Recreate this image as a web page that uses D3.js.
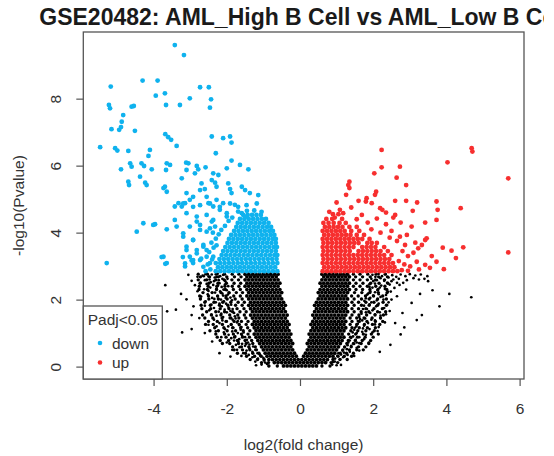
<!DOCTYPE html>
<html>
<head>
<meta charset="utf-8">
<script src="https://cdn.jsdelivr.net/npm/d3@7"></script>
<style>
body { margin: 0; background: #fff; }
svg { display: block; }
text { font-family: "Liberation Sans", Arial, sans-serif; }
</style>
</head>
<body>
<svg width="554" height="456"></svg>
<script>
const xTicks = [-4, -2, 0, 2, 4, 6];
const yTicks = [0, 2, 4, 6, 8];
const legendItems = ["down", "up"];

// significant, down (log2FC, -log10 p)
const downGenes = [
  [-3.42,9.6],[-3.17,9.3],[-5.17,8.36],[-4.30,8.54],[-3.89,8.54],[-2.73,8.34],[-2.49,8.34],[-3.94,8.09],[-3.69,8.16],[-3.01,8.01],
  [-2.43,7.98],[-5.22,7.81],[-5.19,7.71],[-4.60,7.76],[-4.54,7.78],[-3.66,7.81],[-3.28,7.81],[-2.46,7.73],[-4.83,7.51],[-4.87,7.31],
  [-4.94,7.07],[-4.89,7.15],[-5.15,7.09],[-4.51,7.04],[-3.68,6.94],[-3.60,6.85],[-3.52,6.77],[-5.46,6.55],[-5.05,6.52],[-4.99,6.45],
  [-4.69,6.44],[-4.10,6.47],[-4.14,6.29],[-3.37,6.59],[-2.41,6.87],[-2.10,6.82],[-1.91,6.87],[-1.87,6.69],[-2.30,6.37],[-4.89,5.89],
  [-4.64,6.07],[-4.60,5.97],[-4.33,6.07],[-4.26,5.99],[-4.05,5.89],[-3.64,6.07],[-3.66,5.87],[-3.55,6.02],[-3.11,6.09],[-3.05,6.07],
  [-4.37,5.67],[-4.69,5.52],[-4.67,5.42],[-4.23,5.49],[-4.19,5.42],[-2.82,5.99],[-2.78,5.89],[-2.87,5.77],[-2.58,5.95],[-3.23,5.62],
  [-3.10,5.87],[-2.37,5.77],[-2.23,5.72],[-2.41,5.57],[-1.87,6.15],[-1.64,6.02],[-1.41,5.89],[-2.00,5.92],[-3.73,5.33],[-3.64,5.22],
  [-3.69,5.37],[-2.69,5.47],[-2.73,5.27],[-2.60,5.30],[-2.32,5.49],[-2.28,5.37],[-1.96,5.47],[-1.91,5.30],[-1.87,5.18],[-1.59,5.37],
  [-1.50,5.27],[-1.37,5.18],[-1.14,5.12],[-3.10,5.18],[-3.01,4.98],[-3.14,4.88],[-3.23,4.78],[-3.42,4.78],[-3.32,4.88],[-2.92,5.07],
  [-2.55,5.07],[-2.50,4.88],[-2.37,4.78],[-2.28,4.98],[-2.19,4.68],[-2.10,4.88],[-2.00,4.48],[-1.78,4.83],[-1.69,4.63],[-1.59,4.58],
  [-1.46,4.48],[-4.28,4.28],[-4.01,4.23],[-3.96,4.25],[-4.46,4.03],[-3.64,4.10],[-3.37,4.18],[-3.42,4.38],[-3.19,3.98],[-2.92,3.78],
  [-2.82,4.33],[-2.73,4.08],[-2.55,4.03],[-2.41,4.33],[-2.32,4.18],[-3.73,3.28],[-3.64,3.09],[-5.28,3.09],[-3.10,3.58],[-3.01,3.28],
  [-2.82,3.48],[-2.92,3.09],[-3.14,2.99],[-2.64,3.58],[-2.55,3.28],[-2.46,3.09],[-2.73,3.18],[-3.78,3.27],[-3.68,3.07],[-3.20,3.27],
  [-2.96,3.17],[-2.70,3.22],[-3.19,4.87],[-2.92,4.77],[-2.73,4.82],[-2.46,4.87],[-2.19,4.77],[-1.91,4.87],[-1.69,4.77],[-1.46,4.82],
  [-1.18,4.87],[-3.10,4.58],[-2.82,4.48],[-2.55,4.53],[-2.37,4.38],[-2.00,4.58],[-3.01,4.18],[-2.73,4.23],[-2.46,4.13],[-3.19,3.88],
  [-2.92,3.78],[-2.64,3.63],[-3.10,3.48],[-2.82,3.38],[-2.55,3.48],[-3.14,3.08],[-2.92,3.18],[-2.64,2.98],[-2.37,3.28],[-2.45,2.90],
  [-2.52,3.05],[-2.40,3.20],[-2.48,3.42],[-2.36,3.55],[-2.58,2.85],[-2.42,3.70],[-2.30,3.82],[-2.22,3.95],[-2.15,4.08],[-2.38,4.00],
  [-2.05,4.20],[-1.95,4.35],[-1.85,4.45],[-2.28,3.62],[-1.45,4.65],[-1.25,4.66],[-1.05,4.62]
];

// dense part of the down group, rows of [-log10 p, log2FC list]
const downCore = [
  [2.85, [-2.30,-2.18,-2.06,-1.94,-1.82,-1.70,-1.58,-1.46,-1.34,-1.22,-1.10,-0.98,-0.86,-0.74,-0.62]],
  [2.97, [-2.24,-2.12,-2.00,-1.88,-1.76,-1.64,-1.52,-1.40,-1.28,-1.16,-1.04,-0.92,-0.80,-0.68]],
  [3.09, [-2.30,-2.18,-2.06,-1.94,-1.82,-1.70,-1.58,-1.46,-1.34,-1.22,-1.10,-0.98,-0.86,-0.74,-0.62]],
  [3.21, [-2.20,-2.08,-1.96,-1.84,-1.72,-1.60,-1.48,-1.36,-1.24,-1.12,-1.00,-0.88,-0.76,-0.64]],
  [3.33, [-2.14,-2.02,-1.90,-1.78,-1.66,-1.54,-1.42,-1.30,-1.18,-1.06,-0.94,-0.82,-0.70,-0.62]],
  [3.45, [-2.10,-1.98,-1.86,-1.74,-1.62,-1.50,-1.38,-1.26,-1.14,-1.02,-0.90,-0.78,-0.66]],
  [3.57, [-2.04,-1.92,-1.80,-1.68,-1.56,-1.44,-1.32,-1.20,-1.08,-0.96,-0.84,-0.72,-0.63]],
  [3.69, [-1.98,-1.86,-1.74,-1.62,-1.50,-1.38,-1.26,-1.14,-1.02,-0.90,-0.78,-0.66]],
  [3.81, [-1.94,-1.82,-1.70,-1.58,-1.46,-1.34,-1.22,-1.10,-0.98,-0.86,-0.74,-0.66]],
  [3.93, [-1.88,-1.76,-1.64,-1.52,-1.40,-1.28,-1.16,-1.04,-0.92,-0.80,-0.70]],
  [4.05, [-1.80,-1.68,-1.56,-1.44,-1.32,-1.20,-1.08,-0.96,-0.84,-0.74]],
  [4.17, [-1.74,-1.62,-1.50,-1.38,-1.26,-1.14,-1.02,-0.90,-0.79]],
  [4.29, [-1.70,-1.58,-1.46,-1.34,-1.22,-1.10,-0.98,-0.86]],
  [4.41, [-1.64,-1.52,-1.40,-1.28,-1.16,-1.04,-0.93]],
  [4.53, [-1.55,-1.43,-1.31,-1.19,-1.07]]
];

// significant, up
const upGenes = [
  [2.23,6.47],[4.69,6.52],[4.71,6.42],[4.03,6.10],[5.69,5.62],[5.69,3.41],[2.23,5.95],[2.73,5.97],[2.03,5.77],[2.64,5.64],
  [2.90,5.42],[1.35,5.52],[1.32,5.42],[1.35,5.33],[1.26,5.13],[2.08,5.22],[2.05,5.13],[1.82,5.03],[1.80,4.93],[1.96,4.88],
  [2.19,4.73],[2.25,4.68],[2.60,4.95],[2.90,4.95],[3.20,4.90],[3.73,4.93],[3.76,4.68],[3.73,4.38],[4.39,4.73],[3.08,4.65],
  [2.60,4.53],[1.69,4.53],[1.09,4.68],[1.18,4.58],[3.42,4.30],[3.05,4.18],[3.90,3.55],[4.14,3.46],[4.46,3.56],[4.26,3.24],
  [3.73,3.13],[3.93,2.91],[3.42,3.78],[3.33,3.63],[3.23,3.53],[3.46,3.83],[2.87,3.63],[2.73,3.88],[2.92,3.93],[3.19,3.13],
  [3.42,3.04],[3.01,2.99],[1.55,4.40],[1.85,4.30],[2.10,4.42],[2.35,4.25],[2.50,4.05],[2.20,4.00],[1.95,4.10],[2.65,3.75],
  [2.45,3.85],[2.80,3.45],[2.95,3.30],[3.10,3.40],[2.70,3.15],[2.85,3.05],[3.25,2.90],[3.55,2.95],[3.60,3.30],[3.15,3.70],
  [2.55,4.45],[1.40,4.75],[1.60,4.95],[1.00,4.90],[0.95,4.45],[0.80,4.62],[2.35,4.60],[2.75,4.30],[2.78,2.88],[2.95,2.86]
];

const upCore = [
  [2.85, [0.62,0.74,0.86,0.98,1.10,1.22,1.34,1.46,1.58,1.70,1.82,1.94,2.06,2.18,2.30,2.42,2.54,2.66]],
  [2.97, [0.66,0.78,0.90,1.02,1.14,1.26,1.38,1.50,1.62,1.74,1.86,1.98,2.10,2.22,2.34,2.46,2.58]],
  [3.09, [0.62,0.74,0.86,0.98,1.10,1.22,1.34,1.46,1.58,1.70,1.82,1.94,2.06,2.18,2.30,2.42,2.54]],
  [3.21, [0.64,0.76,0.88,1.00,1.12,1.24,1.36,1.48,1.60,1.72,1.84,1.96,2.08,2.20,2.32,2.44]],
  [3.33, [0.62,0.74,0.86,0.98,1.10,1.22,1.34,1.46,1.58,1.70,1.82,1.94,2.06,2.18,2.30,2.50]],
  [3.45, [0.64,0.76,0.88,1.00,1.12,1.24,1.36,1.60,1.72,1.84,1.96,2.08,2.20,2.40]],
  [3.57, [0.62,0.74,0.86,0.98,1.10,1.22,1.34,1.46,1.70,1.82,1.94,2.06,2.30]],
  [3.69, [0.64,0.76,0.88,1.00,1.12,1.24,1.36,1.48,1.60,1.84,1.96,2.10]],
  [3.81, [0.62,0.74,0.86,0.98,1.10,1.22,1.34,1.46,1.58,1.70,1.90]],
  [3.93, [0.66,0.78,0.90,1.02,1.14,1.26,1.38,1.55,1.75]],
  [4.05, [0.62,0.74,0.86,0.98,1.10,1.22,1.40,1.62]],
  [4.17, [0.68,0.80,0.92,1.04,1.16,1.35,1.55]],
  [4.29, [0.64,0.78,0.92,1.08,1.25]],
  [4.41, [0.72,0.88,1.15]],
  [4.55, [0.90,1.05]]
];

// not significant: solid V, rows of [-log10 p, log2FC list]
const nsCore = [
  [0.02, [-0.45,-0.35,-0.25,-0.15,-0.05,0.05,0.15,0.25,0.35,0.45]],
  [0.12, [-0.7,-0.6,-0.5,-0.4,-0.3,-0.2,-0.1,0,0.1,0.2,0.3,0.4,0.5,0.6,0.7]],
  [0.21, [-0.85,-0.75,-0.65,-0.55,-0.45,-0.35,-0.25,-0.15,-0.05,0.05,0.15,0.25,0.35,0.45,0.55,0.65,0.75]],
  [0.31, [-0.9,-0.8,-0.7,-0.6,-0.5,-0.4,-0.3,-0.2,-0.1,0.1,0.2,0.3,0.4,0.5,0.6,0.7,0.8,0.9]],
  [0.40, [-0.95,-0.85,-0.75,-0.65,-0.55,-0.45,-0.35,-0.25,-0.15,0.15,0.25,0.35,0.45,0.55,0.65,0.75,0.85,0.95]],
  [0.50, [-1.0,-0.9,-0.8,-0.7,-0.6,-0.5,-0.4,-0.3,-0.2,0.2,0.3,0.4,0.5,0.6,0.7,0.8,0.9,1.0]],
  [0.59, [-1.05,-0.95,-0.85,-0.75,-0.65,-0.55,-0.45,-0.35,-0.25,0.25,0.35,0.45,0.55,0.65,0.75,0.85,0.95,1.05]],
  [0.69, [-1.1,-1.0,-0.9,-0.8,-0.7,-0.6,-0.5,-0.4,-0.3,-0.2,0.2,0.3,0.4,0.5,0.6,0.7,0.8,0.9,1.0,1.1]],
  [0.78, [-1.15,-1.05,-0.95,-0.85,-0.75,-0.65,-0.55,-0.45,-0.35,-0.25,0.25,0.35,0.45,0.55,0.65,0.75,0.85,0.95,1.05,1.15]],
  [0.88, [-1.2,-1.1,-1.0,-0.9,-0.8,-0.7,-0.6,-0.5,-0.4,-0.3,0.3,0.4,0.5,0.6,0.7,0.8,0.9,1.0,1.1,1.2]],
  [0.97, [-1.25,-1.15,-1.05,-0.95,-0.85,-0.75,-0.65,-0.55,-0.45,-0.35,-0.25,0.25,0.35,0.45,0.55,0.65,0.75,0.85,0.95,1.05,1.15]],
  [1.07, [-1.2,-1.1,-1.0,-0.9,-0.8,-0.7,-0.6,-0.5,-0.4,-0.3,0.3,0.4,0.5,0.6,0.7,0.8,0.9,1.0,1.1,1.2]],
  [1.16, [-1.25,-1.15,-1.05,-0.95,-0.85,-0.75,-0.65,-0.55,-0.45,-0.35,0.35,0.45,0.55,0.65,0.75,0.85,0.95,1.05,1.15,1.25]],
  [1.26, [-1.3,-1.2,-1.1,-1.0,-0.9,-0.8,-0.7,-0.6,-0.5,-0.4,-0.3,0.3,0.4,0.5,0.6,0.7,0.8,0.9,1.0,1.1,1.2]],
  [1.35, [-1.25,-1.15,-1.05,-0.95,-0.85,-0.75,-0.65,-0.55,-0.45,-0.35,0.35,0.45,0.55,0.65,0.75,0.85,0.95,1.05,1.15,1.25]],
  [1.45, [-1.3,-1.2,-1.1,-1.0,-0.9,-0.8,-0.7,-0.6,-0.5,-0.4,0.4,0.5,0.6,0.7,0.8,0.9,1.0,1.1,1.2]],
  [1.54, [-1.35,-1.25,-1.15,-1.05,-0.95,-0.85,-0.75,-0.65,-0.55,-0.45,-0.35,0.35,0.45,0.55,0.65,0.75,0.85,0.95,1.05,1.15,1.25]],
  [1.64, [-1.3,-1.2,-1.1,-1.0,-0.9,-0.8,-0.7,-0.6,-0.5,-0.4,0.4,0.5,0.6,0.7,0.8,0.9,1.0,1.1,1.2,1.3]],
  [1.73, [-1.35,-1.25,-1.15,-1.05,-0.95,-0.85,-0.75,-0.65,-0.55,-0.45,0.45,0.55,0.65,0.75,0.85,0.95,1.05,1.15,1.25]],
  [1.83, [-1.4,-1.3,-1.2,-1.1,-1.0,-0.9,-0.8,-0.7,-0.6,-0.5,-0.4,0.4,0.5,0.6,0.7,0.8,0.9,1.0,1.1,1.2,1.3]],
  [1.92, [-1.35,-1.25,-1.15,-1.05,-0.95,-0.85,-0.75,-0.65,-0.55,-0.45,0.45,0.55,0.65,0.75,0.85,0.95,1.05,1.15,1.25]],
  [2.02, [-1.4,-1.3,-1.2,-1.1,-1.0,-0.9,-0.8,-0.7,-0.6,-0.5,0.5,0.6,0.7,0.8,0.9,1.0,1.1,1.2,1.3]],
  [2.11, [-1.45,-1.35,-1.25,-1.15,-1.05,-0.95,-0.85,-0.75,-0.65,-0.55,0.55,0.65,0.75,0.85,0.95,1.05,1.15,1.25]],
  [2.21, [-1.4,-1.3,-1.2,-1.1,-1.0,-0.9,-0.8,-0.7,-0.6,-0.5,0.5,0.6,0.7,0.8,0.9,1.0,1.1,1.2,1.3]],
  [2.30, [-1.45,-1.35,-1.25,-1.15,-1.05,-0.95,-0.85,-0.75,-0.65,-0.55,0.55,0.65,0.75,0.85,0.95,1.05,1.15,1.25,1.35]],
  [2.40, [-1.5,-1.4,-1.3,-1.2,-1.1,-1.0,-0.9,-0.8,-0.7,-0.6,0.6,0.7,0.8,0.9,1.0,1.1,1.2,1.3]],
  [2.49, [-1.45,-1.35,-1.25,-1.15,-1.05,-0.95,-0.85,-0.75,-0.65,-0.55,0.55,0.65,0.75,0.85,0.95,1.05,1.15,1.25,1.35]],
  [2.59, [-1.5,-1.4,-1.3,-1.2,-1.1,-1.0,-0.9,-0.8,-0.7,-0.6,0.6,0.7,0.8,0.9,1.0,1.1,1.2,1.3]],
  [2.68, [-1.45,-1.35,-1.25,-1.15,-1.05,-0.95,-0.85,-0.75,-0.65,0.65,0.75,0.85,0.95,1.05,1.15,1.25,1.35]],
  [2.76, [-1.5,-1.4,-1.3,-1.2,-1.1,-1.0,-0.9,-0.8,-0.7,-0.6,0.6,0.7,0.8,0.9,1.0,1.1,1.2,1.3]]
];

// not significant: mottled band round the solid V, rows of [-log10 p, log2FC list]
const nsHalo = [
  [0.02, [-0.62,-0.85,0.60,0.82]],
  [0.12, [-0.86,-1.05,0.85,1.03]],
  [0.21, [-0.98,-1.16,-1.36,0.90,1.09,1.29]],
  [0.31, [-1.06,-1.24,-1.46,1.04,1.21,1.41]],
  [0.40, [-1.12,-1.29,-1.49,-1.71,1.10,1.27,1.46]],
  [0.50, [-1.19,-1.37,-1.57,-1.80,1.17,1.35,1.55,1.73]],
  [0.59, [-1.22,-1.40,-1.60,-1.84,1.22,1.40,1.60,1.80]],
  [0.69, [-1.29,-1.47,-1.68,-1.92,-2.12,1.28,1.46,1.67,1.88]],
  [0.78, [-1.32,-1.50,-1.71,-1.95,-2.18,1.32,1.51,1.70,1.93]],
  [0.88, [-1.38,-1.57,-1.79,-2.02,-2.26,1.38,1.57,1.78,2.00]],
  [0.97, [-1.42,-1.60,-1.82,-2.06,-2.30,1.33,1.52,1.73,1.95,2.14]],
  [1.07, [-1.37,-1.55,-1.76,-1.99,-2.23,-2.46,1.39,1.58,1.80,2.03]],
  [1.16, [-1.43,-1.62,-1.84,-2.08,-2.33,1.42,1.62,1.84,2.06]],
  [1.26, [-1.47,-1.66,-1.88,-2.12,-2.37,-2.58,1.37,1.55,1.76,1.98,2.18]],
  [1.35, [-1.42,-1.60,-1.80,-2.02,-2.26,-2.50,1.42,1.62,1.83,2.06,2.26]],
  [1.45, [-1.48,-1.67,-1.89,-2.13,-2.38,-2.60,1.37,1.55,1.75,1.97,2.20]],
  [1.54, [-1.52,-1.70,-1.92,-2.16,-2.42,-2.66,1.42,1.61,1.82,2.05,2.28]],
  [1.64, [-1.47,-1.64,-1.84,-2.06,-2.30,-2.55,1.48,1.67,1.88,2.12,2.34]],
  [1.73, [-1.53,-1.72,-1.94,-2.18,-2.44,-2.68,1.42,1.60,1.80,2.02,2.25]],
  [1.83, [-1.58,-1.76,-1.97,-2.20,-2.45,-2.70,1.48,1.68,1.89,2.12,2.36]],
  [1.92, [-1.52,-1.69,-1.89,-2.11,-2.35,-2.60,1.42,1.60,1.80,2.02,2.27]],
  [2.02, [-1.58,-1.77,-1.99,-2.23,-2.49,-2.72,1.48,1.68,1.89,2.12,2.36]],
  [2.11, [-1.63,-1.81,-2.02,-2.25,-2.50,-2.74,1.41,1.59,1.79,2.01,2.26]],
  [2.21, [-1.57,-1.74,-1.94,-2.16,-2.40,-2.65,1.49,1.69,1.91,2.14,2.38]],
  [2.30, [-1.63,-1.82,-2.04,-2.28,-2.53,-2.76,1.53,1.71,1.91,2.13,2.37]],
  [2.40, [-1.67,-1.85,-2.05,-2.27,-2.51,-2.75,1.46,1.64,1.84,2.07,2.32]],
  [2.49, [-1.62,-1.80,-2.01,-2.24,-2.49,-2.73,1.53,1.72,1.93,2.16,2.40]],
  [2.59, [-1.68,-1.86,-2.07,-2.30,-2.55,-2.78,1.46,1.64,1.84,2.06,2.31]],
  [2.68, [-1.61,-1.79,-2.00,-2.23,-2.47,-2.72,1.52,1.71,1.92,2.15,2.39]],
  [2.76, [-1.67,-1.85,-2.06,-2.29,-2.53,-2.78,1.46,1.64,1.85,2.08,2.33]]
];

// not significant: scattered points round the V
const nsGenes = [
  [-2.10,2.74],[-2.18,2.70],[-2.25,2.77],[-2.33,2.66],[-2.41,2.75],[-2.50,2.69],[-2.58,2.76],[-2.66,2.72],[-2.12,2.62],[-2.22,2.58],
  [-2.35,2.55],[-2.47,2.60],[-2.80,2.68],[-3.05,2.74],[-2.05,2.45],[-2.14,2.38],[-2.09,2.30],[-2.20,2.49],[-2.28,2.33],[-2.37,2.44],
  [-2.45,2.36],[-2.55,2.47],[-2.62,2.31],[-2.18,2.25],[-2.32,2.21],[-1.97,2.15],[-2.03,2.05],[-2.10,2.12],[-2.16,2.00],[-2.25,2.10],
  [-2.40,2.05],[-2.52,2.16],[-2.70,2.09],[-2.08,1.95],[-2.30,1.92],[-1.88,1.85],[-1.95,1.76],[-2.02,1.88],[-1.90,1.66],[-2.06,1.70],
  [-2.14,1.80],[-2.22,1.64],[-2.35,1.75],[-2.48,1.68],[-2.60,1.82],[-2.15,1.58],[-1.78,1.50],[-1.84,1.40],[-1.72,1.32],[-1.92,1.45],
  [-2.00,1.35],[-1.88,1.25],[-2.10,1.48],[-2.20,1.30],[-2.35,1.40],[-1.96,1.20],[-2.50,1.25],[-1.62,1.10],[-1.70,1.00],[-1.58,0.92],
  [-1.77,0.90],[-1.85,1.05],[-1.66,0.82],[-1.95,0.95],[-2.05,1.12],[-1.80,0.78],[-2.15,0.88],[-1.42,0.72],[-1.50,0.62],[-1.38,0.55],
  [-1.58,0.68],[-1.46,0.48],[-1.65,0.58],[-1.30,0.44],[-1.55,0.40],[-1.75,0.65],[-1.85,0.50],[-1.08,0.32],[-1.15,0.24],[-0.98,0.18],
  [-1.22,0.15],[-0.90,0.08],[-1.05,0.06],[-1.30,0.28],[-0.85,0.02],[-3.68,2.43],[-3.63,1.65],[-3.39,1.70],[-3.25,2.17],[-3.22,1.02],
  [-2.96,1.12],[-2.96,1.54],[-2.91,1.80],[-3.10,2.01],[-2.87,2.43],[-2.96,2.56],[-2.63,2.70],[-2.20,0.40],[-1.90,0.30],[-2.80,2.25],
  [-2.75,1.45],[-2.60,1.00],[-2.40,0.75],
  [-1.98,2.62],[-2.04,2.55],[-1.96,2.40],[-2.00,2.28],[-1.93,2.20],[-1.90,2.06],[-1.86,1.98],[-1.84,1.72],[-1.80,1.60],[-1.76,1.44],
  [-1.70,1.36],[-1.66,1.24],[-1.60,1.18],[-1.54,1.02],[-1.50,0.88],[-1.45,0.80],[-1.38,0.66],[-1.28,0.60],[-1.22,0.50],[-1.16,0.40],
  [-1.10,0.36],[-1.00,0.26],[-0.95,0.12],[-2.28,2.68],[-2.44,2.52],[-2.60,2.58],[-2.72,2.50],[-2.24,2.42],[-2.50,2.26],[-2.12,2.18],
  [-2.34,2.02],[-2.58,1.95],[-2.20,1.88],[-2.42,1.85],[-2.00,1.62],[-2.28,1.52],[-2.42,1.55],[-2.12,1.38],[-2.28,1.20],[-1.82,1.16],
  [-2.08,1.02],[-2.30,1.05],[-1.88,0.85],[-2.00,0.72],[-1.68,0.74],[-1.72,0.50],[-1.60,0.32],[-1.40,0.35],[-1.20,0.04],
  [1.98,2.74],[2.06,2.68],[2.15,2.77],[2.24,2.70],[2.33,2.76],[2.42,2.66],[2.52,2.73],[2.63,2.68],[2.75,2.75],[2.88,2.70],
  [3.00,2.76],[3.15,2.72],[3.30,2.75],[3.48,2.70],[2.10,2.58],[2.30,2.56],[2.55,2.60],[1.90,2.46],[1.98,2.36],[2.05,2.48],
  [2.12,2.28],[2.22,2.42],[2.32,2.32],[2.45,2.45],[2.58,2.35],[2.72,2.44],[2.05,2.22],[2.40,2.24],[1.84,2.15],[1.92,2.05],
  [2.00,2.12],[2.10,1.98],[2.20,2.08],[2.35,2.14],[2.50,2.00],[2.65,2.10],[1.95,1.92],[1.75,1.82],[1.83,1.72],[1.90,1.86],
  [1.80,1.62],[1.98,1.68],[2.08,1.80],[2.18,1.62],[2.30,1.75],[2.45,1.66],[2.05,1.56],[1.62,1.48],[1.70,1.38],[1.58,1.28],
  [1.78,1.44],[1.86,1.30],[1.75,1.22],[1.95,1.40],[2.05,1.26],[2.20,1.45],[2.32,1.32],[1.48,1.10],[1.55,1.00],[1.45,0.90],
  [1.62,0.88],[1.70,1.04],[1.52,0.80],[1.80,0.95],[1.90,1.12],[1.32,0.72],[1.40,0.62],[1.28,0.52],[1.48,0.68],[1.36,0.44],
  [1.55,0.56],[1.20,0.42],[1.62,0.70],[1.02,0.32],[1.10,0.22],[0.95,0.15],[1.18,0.28],[0.88,0.06],[1.00,0.04],[4.68,2.07],
  [3.81,1.80],[4.08,2.17],[3.28,2.17],[3.33,1.54],[3.19,1.39],[3.62,2.28],[2.85,1.17],[2.75,0.96],[2.47,0.65],[2.18,0.44],
  [2.90,2.30],[3.05,1.90],[2.80,1.60],[3.50,2.55],[2.60,1.30],
  [1.95,2.62],[2.00,2.55],[1.90,2.38],[1.92,2.25],[1.86,2.18],[1.80,2.04],[1.76,1.96],[1.72,1.72],[1.68,1.58],[1.64,1.42],
  [1.58,1.36],[1.54,1.20],[1.50,1.16],[1.44,1.02],[1.40,0.86],[1.36,0.78],[1.30,0.64],[1.22,0.58],[1.16,0.48],[1.12,0.36],
  [1.05,0.40],[0.96,0.24],[0.90,0.14],[2.20,2.64],[2.38,2.50],[2.50,2.55],[2.65,2.50],[2.18,2.36],[2.48,2.24],[2.15,2.16],
  [2.28,2.00],[2.42,1.92],[2.15,1.88],[2.38,1.84],[1.92,1.60],[2.20,1.52],[2.35,1.56],[2.05,1.38],[2.15,1.18],[1.72,1.14],
  [1.98,1.02],[2.12,1.06],[1.75,0.82],[1.88,0.72],[1.55,0.72],[1.62,0.48],[1.48,0.32],[1.30,0.35],[1.12,0.05],
  [2.70,2.62],[2.92,2.58],[3.10,2.64],[3.25,2.60],[2.82,2.50],[3.40,2.62]
];

const colors = { ns: "#000000", down: "#0fb2ee", up: "#f72f2f" };

const svg = d3.select("svg");
const plotLeft = 83.3, plotRight = 524, plotTop = 32, plotBottom = 379;

const x = d3.scaleLinear().domain([-5.92, 6.12]).range([plotLeft, plotRight]);
const y = d3.scaleLinear().domain([-0.37, 9.99]).range([plotBottom, plotTop]);

const unrow = rows => rows.flatMap(([yv, xs]) => xs.map(xv => [xv, yv]));

function dots(data, color, r) {
    svg.append("g")
        .selectAll("circle")
        .data(data)
        .enter()
        .append("circle")
        .attr("cx", d => x(d[0]))
        .attr("cy", d => y(d[1]))
        .attr("r", r)
        .attr("fill", color);
}

dots(unrow(nsCore), colors.ns, 1.9);
dots(unrow(nsHalo), colors.ns, 1.7);
dots(nsGenes, colors.ns, 1.35);
dots(unrow(downCore).concat(downGenes), colors.down, 2.4);
dots(unrow(upCore).concat(upGenes), colors.up, 2.4);

// plot frame
svg.append("rect")
    .attr("x", plotLeft).attr("y", plotTop)
    .attr("width", plotRight - plotLeft).attr("height", plotBottom - plotTop)
    .attr("fill", "none").attr("stroke", "#555").attr("stroke-width", 1.3);

const xAxis = svg.append("g")
    .attr("transform", `translate(0,${plotBottom})`)
    .call(d3.axisBottom(x).tickValues(xTicks).tickSize(7).tickPadding(17).tickFormat(String));
xAxis.select(".domain").remove();
xAxis.selectAll("line").attr("stroke", "#555").attr("stroke-width", 1.2);
xAxis.selectAll("text").attr("font-size", 15.5).attr("fill", "#333")
    .style("font-family", '"Liberation Sans", Arial, sans-serif');

const yAxis = svg.append("g")
    .attr("transform", `translate(${plotLeft},0)`)
    .call(d3.axisLeft(y).tickValues(yTicks).tickSize(7).tickFormat(String));
yAxis.select(".domain").remove();
yAxis.selectAll("line").attr("stroke", "#555").attr("stroke-width", 1.2);
yAxis.selectAll("text")
    .attr("x", 0).attr("dy", null)
    .attr("text-anchor", "middle")
    .attr("transform", `translate(${60.5 - plotLeft},0) rotate(-90)`)
    .attr("font-size", 15.5).attr("fill", "#333")
    .style("font-family", '"Liberation Sans", Arial, sans-serif');

// titles (the reference image is cropped just after "B C")
svg.append("clipPath").attr("id", "titleClip")
    .append("rect").attr("x", 0).attr("y", 0).attr("width", 544).attr("height", 30);

svg.append("text")
    .attr("clip-path", "url(#titleClip)")
    .attr("x", (plotLeft + plotRight) / 2).attr("y", 25)
    .attr("text-anchor", "middle")
    .attr("font-size", 23).attr("font-weight", "bold").attr("fill", "#1a1a1a")
    .text("GSE20482: AML_High B Cell vs AML_Low B Cell");

svg.append("text")
    .attr("x", (plotLeft + plotRight) / 2).attr("y", 450)
    .attr("text-anchor", "middle")
    .attr("font-size", 15.5).attr("fill", "#333")
    .text("log2(fold change)");

svg.append("text")
    .attr("transform", `translate(23.5,${(plotTop + plotBottom) / 2}) rotate(-90)`)
    .attr("text-anchor", "middle")
    .attr("font-size", 15.5).attr("fill", "#333")
    .text("-log10(Pvalue)");

// legend
const legend = svg.append("g");
legend.append("rect")
    .attr("x", plotLeft).attr("y", 306)
    .attr("width", 79).attr("height", plotBottom - 306)
    .attr("fill", "#fff").attr("stroke", "#555").attr("stroke-width", 1.3);
legend.append("text")
    .attr("x", plotLeft + 39.5).attr("y", 324.5)
    .attr("text-anchor", "middle")
    .attr("font-size", 15.5).attr("fill", "#333")
    .text("Padj<0.05");
legendItems.forEach((name, i) => {
    legend.append("circle")
        .attr("cx", 100).attr("cy", 343 + i * 19.5)
        .attr("r", 2.3).attr("fill", colors[name]);
    legend.append("text")
        .attr("x", 112).attr("y", 348.5 + i * 19.5)
        .attr("font-size", 15.5).attr("fill", "#333")
        .text(name);
});
</script>
</body>
</html>
